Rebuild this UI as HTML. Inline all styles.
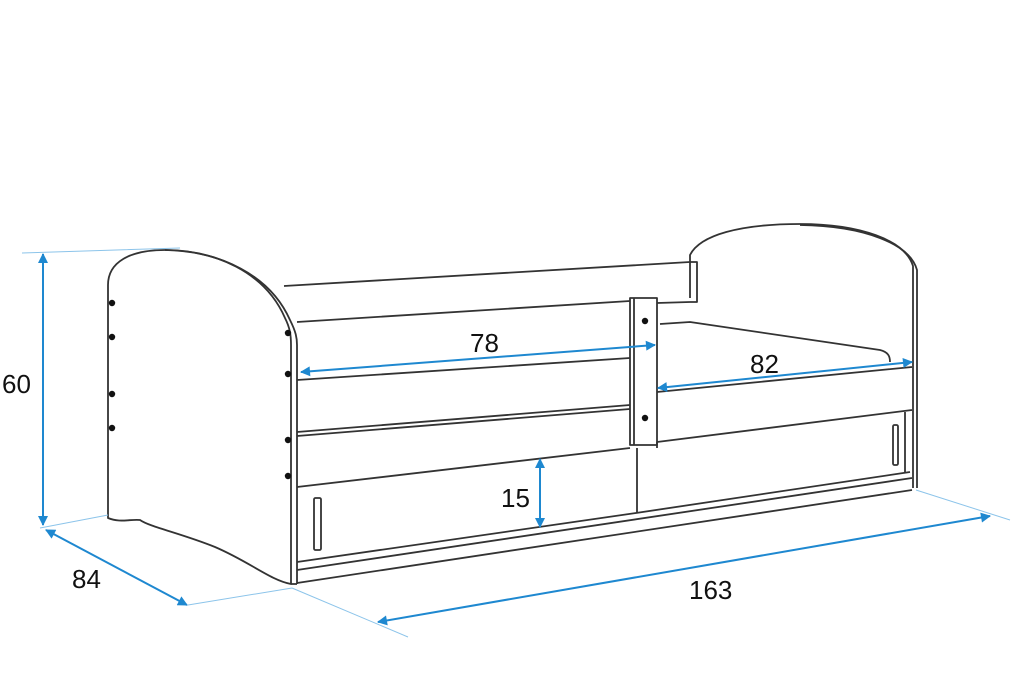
<!DOCTYPE html>
<html><head><meta charset="utf-8"><style>html,body{margin:0;padding:0;background:#fff}svg{display:block}</style></head>
<body>
<svg width="1024" height="682" viewBox="0 0 1024 682" xmlns="http://www.w3.org/2000/svg">
<defs>
<marker id="a" viewBox="0 0 10 10" refX="9" refY="5" markerWidth="7" markerHeight="5" orient="auto-start-reverse" markerUnits="strokeWidth"><path d="M0,0 L10,5 L0,10 z" fill="#1e88d0"/></marker>
</defs>
<rect width="1024" height="682" fill="#fff"/>
<g fill="none" stroke="#333" stroke-width="1.8" stroke-linejoin="round">
<path d="M108,518 L108,285 C108,262 130,250 165,250 C215,250 265,272 285,318 C290,328 291,335 291,345 L291,584 C270,580 250,562 215,547 C180,533 150,527 140,520 C130,519 120,523 108,518 Z" fill="#fff"/>
<path d="M165,250 C220,251 270,275 290,320 C296,332 297,338 297,345 L297,584"/>
<path d="M284,286 L690,262 M297,322 L630,301 M657,303 L690,302"/>
<path d="M690,298 L690,255 C700,235 740,224 800,224 C860,224 905,240 913,266 L913,488" fill="#fff"/>
<path d="M690,262 L697,262 L697,302 L690,302"/>
<path d="M800,225 C865,226 910,244 917,270 L917,488"/>
<path d="M660,324 L690,322 L880,350 C888,352 890,356 890,362"/>
<path d="M297,380 L630,358 M297,432 L630,405 M297,436 L630,409 M297,487 L630,448"/>
<rect x="630" y="298" width="27" height="147" fill="#fff"/>
<path d="M634,298 L634,445"/>
<path d="M657,392 L912,367 M657,442 L912,410 M637,448 L637,513 M657,442 L657,448"/>
<path d="M297,562 L636,513 L910,472 M297,570 L912,478 M297,583 L912,490 M297,584 L291,584 M905,412 L905,472"/>
<rect x="314" y="498" width="7" height="52" rx="1.5"/>
<rect x="893" y="425" width="5" height="40" rx="1.5"/>
</g>
<g fill="#111">
<circle cx="112" cy="303" r="3.2"/><circle cx="112" cy="337" r="3.2"/><circle cx="112" cy="394" r="3.2"/><circle cx="112" cy="428" r="3.2"/>
<circle cx="288" cy="333" r="3.2"/><circle cx="288" cy="374" r="3.2"/><circle cx="288" cy="440" r="3.2"/><circle cx="288" cy="476" r="3.2"/>
<circle cx="645" cy="321" r="3.2"/><circle cx="645" cy="418" r="3.2"/>
</g>
<g stroke="#8cc4ea" stroke-width="1">
<path d="M22,253 L180,248 M40,528 L108,515 M188,605 L292,588 M292,588 L408,637 M916,490 L1010,520"/>
</g>
<g stroke="#1e88d0" stroke-width="2" fill="none" marker-start="url(#a)" marker-end="url(#a)">
<line x1="43" y1="254" x2="43" y2="525"/>
<line x1="46" y1="530" x2="187" y2="605"/>
<line x1="378" y1="622" x2="990" y2="516"/>
<line x1="301" y1="372" x2="655" y2="345"/>
<line x1="658" y1="388" x2="912" y2="362"/>
<line x1="540" y1="459" x2="540" y2="527"/>
</g>
<g font-family="Liberation Sans, sans-serif" font-size="26" fill="#111">
<text x="2" y="393">60</text>
<text x="72" y="588">84</text>
<text x="689" y="599">163</text>
<text x="470" y="352">78</text>
<text x="750" y="373">82</text>
<text x="501" y="507">15</text>
</g>
</svg>
</body></html>
